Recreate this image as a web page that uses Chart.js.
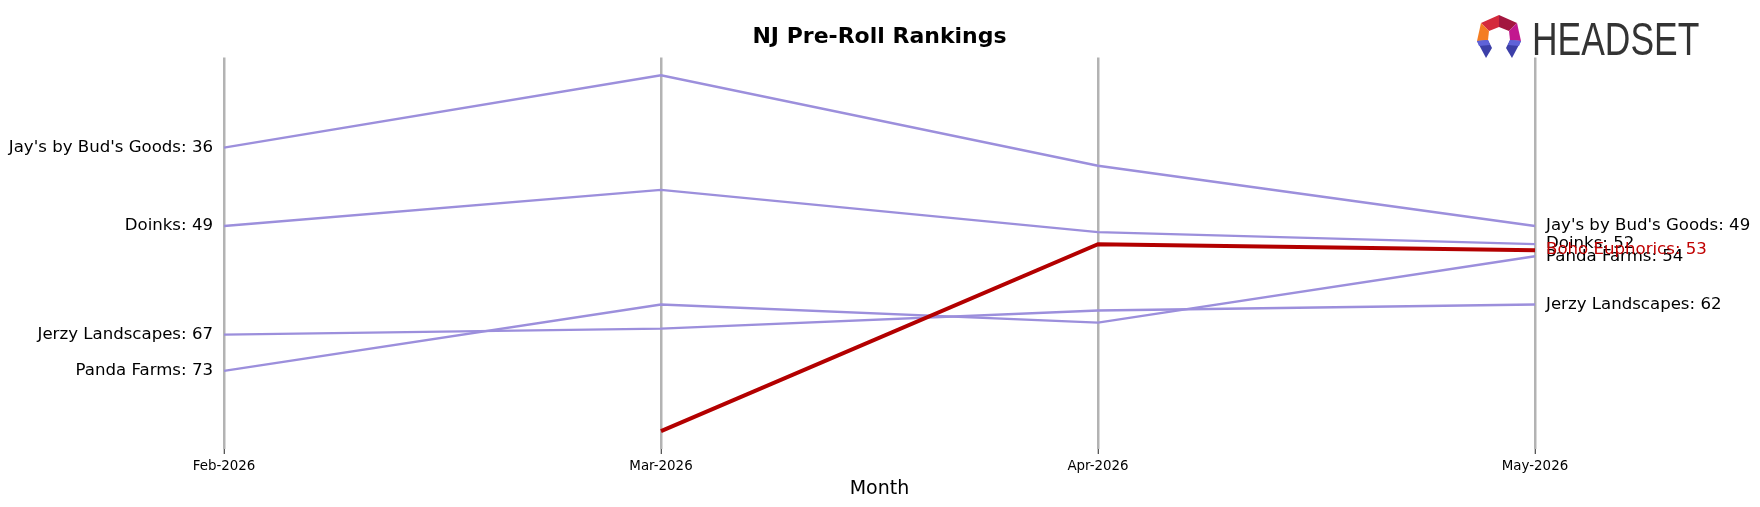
<!DOCTYPE html>
<html>
<head>
<meta charset="utf-8">
<title>NJ Pre-Roll Rankings</title>
<script src="https://cdn.jsdelivr.net/npm/chart.js@4.4.1/dist/chart.umd.min.js"></script>
<style>
  body { margin: 0; background: #fff; }
  #wrap { width: 1760px; height: 507px; }
</style>
</head>
<body>
<div id="wrap"><canvas id="rankChart" width="1760" height="507"></canvas></div>
<script>
// months on the x axis
const months = ['Feb-2026', 'Mar-2026', 'Apr-2026', 'May-2026'];

// rank per month (lower = better), null where brand wasn't ranked
const bohoEuphorics = [null, 83, 52, 53];
const jaysByBudsGoods = [36, 24, 39, 49];
const doinks = [49, 43, 50, 52];
const jerzyLandscapes = [67, 66, 63, 62];
const pandaFarms = [73, 62, 65, 54];

const purple = '#9c8fdc';
const red = '#b30000';

// highlighted brand first so it's drawn on top
const series = [
  { name: 'Boho Euphorics', values: bohoEuphorics, color: red, width: 4, text: '#c00000' },
  { name: "Jay's by Bud's Goods", values: jaysByBudsGoods, color: purple, width: 2.4, text: '#000' },
  { name: 'Doinks', values: doinks, color: purple, width: 2.4, text: '#000' },
  { name: 'Jerzy Landscapes', values: jerzyLandscapes, color: purple, width: 2.4, text: '#000' },
  { name: 'Panda Farms', values: pandaFarms, color: purple, width: 2.4, text: '#000' }
];

// brand labels at both ends of each line
const endLabels = {
  id: 'endLabels',
  afterDatasetsDraw(chart) {
    const ctx = chart.ctx;
    ctx.save();
    ctx.font = '16.6px "DejaVu Sans"';
    ctx.textBaseline = 'middle';
    // draw the highlighted one last
    for (let i = series.length - 1; i >= 0; i--) {
      const s = series[i];
      const pts = chart.getDatasetMeta(i).data;
      ctx.fillStyle = s.text;
      const first = s.values[0];
      if (first !== null) {
        ctx.textAlign = 'right';
        ctx.fillText(s.name + ': ' + first, pts[0].x - 11, pts[0].y);
      }
      const last = s.values.length - 1;
      if (s.values[last] !== null) {
        ctx.textAlign = 'left';
        ctx.fillText(s.name + ': ' + s.values[last], pts[last].x + 11, pts[last].y);
      }
    }
    ctx.restore();
  }
};

// little HEADSET logo top right
const logo = {
  id: 'logo',
  afterDraw(chart) {
    const ctx = chart.ctx;
    const cx = 1499, cy = 37;
    const quads = [
      [[0, -22], [-18, -14], [-10, -6], [0, -10], '#d42a3c'],
      [[0, -22], [18, -14], [10, -6], [0, -10], '#a3163f'],
      [[-18, -14], [-22, 4], [-11, 3], [-10, -6], '#f47d22'],
      [[18, -14], [22, 4], [11, 3], [10, -6], '#c2188f'],
      [[-22, 4], [-13, 21], [-7, 11], [-11, 3], '#3c3fa8'],
      [[22, 4], [13, 21], [7, 11], [11, 3], '#3c3fa8'],
      [[-22, 4], [-11, 3], [-9, 8], [-20, 9], '#5f62d8'],
      [[22, 4], [11, 3], [9, 8], [20, 9], '#5f62d8']
    ];
    ctx.save();
    quads.forEach(q => {
      ctx.beginPath();
      ctx.moveTo(cx + q[0][0], cy + q[0][1]);
      for (let k = 1; k < 4; k++) ctx.lineTo(cx + q[k][0], cy + q[k][1]);
      ctx.closePath();
      ctx.fillStyle = q[4];
      ctx.fill();
    });
    ctx.fillStyle = '#333';
    ctx.textBaseline = 'alphabetic';
    ctx.textAlign = 'left';
    ctx.font = '46px "Liberation Sans"';
    ctx.translate(1532, 55);
    ctx.scale(0.77, 1);
    ctx.fillText('HEADSET', 0, 0);
    ctx.restore();
  }
};

new Chart(document.getElementById('rankChart'), {
  type: 'line',
  data: {
    labels: months,
    datasets: series.map(s => ({
      label: s.name,
      data: s.values,
      borderColor: s.color,
      borderWidth: s.width,
      pointRadius: 0,
      tension: 0,
      fill: false,
      spanGaps: false
    }))
  },
  options: {
    responsive: false,
    animation: false,
    devicePixelRatio: 1,
    layout: { padding: { left: 224, right: 225, top: 0, bottom: 0 } },
    plugins: {
      legend: { display: false },
      tooltip: { enabled: false },
      title: {
        display: true,
        text: 'NJ Pre-Roll Rankings',
        color: '#000',
        font: { family: 'DejaVu Sans', size: 22, weight: 'bold', lineHeight: 1.2 },
        padding: { top: 24, bottom: 7 }
      }
    },
    scales: {
      x: {
        type: 'category',
        offset: false,
        border: { display: false },
        grid: {
          color: '#b3b3b3',
          lineWidth: 2.5,
          drawTicks: true,
          tickLength: 5,
          tickColor: '#222',
          tickWidth: 1
        },
        ticks: {
          color: '#000',
          padding: 4,
          maxRotation: 0,
          font: { family: 'DejaVu Sans', size: 13.4 }
        },
        title: {
          display: true,
          text: 'Month',
          color: '#000',
          font: { family: 'DejaVu Sans', size: 19 },
          padding: { top: 4, bottom: 7 }
        },
        afterFit(axis) { axis.height = 58; }
      },
      y: {
        display: false,
        reverse: true,
        min: 21.05,
        max: 85.95
      }
    }
  },
  plugins: [endLabels, logo]
});
</script>
</body>
</html>
